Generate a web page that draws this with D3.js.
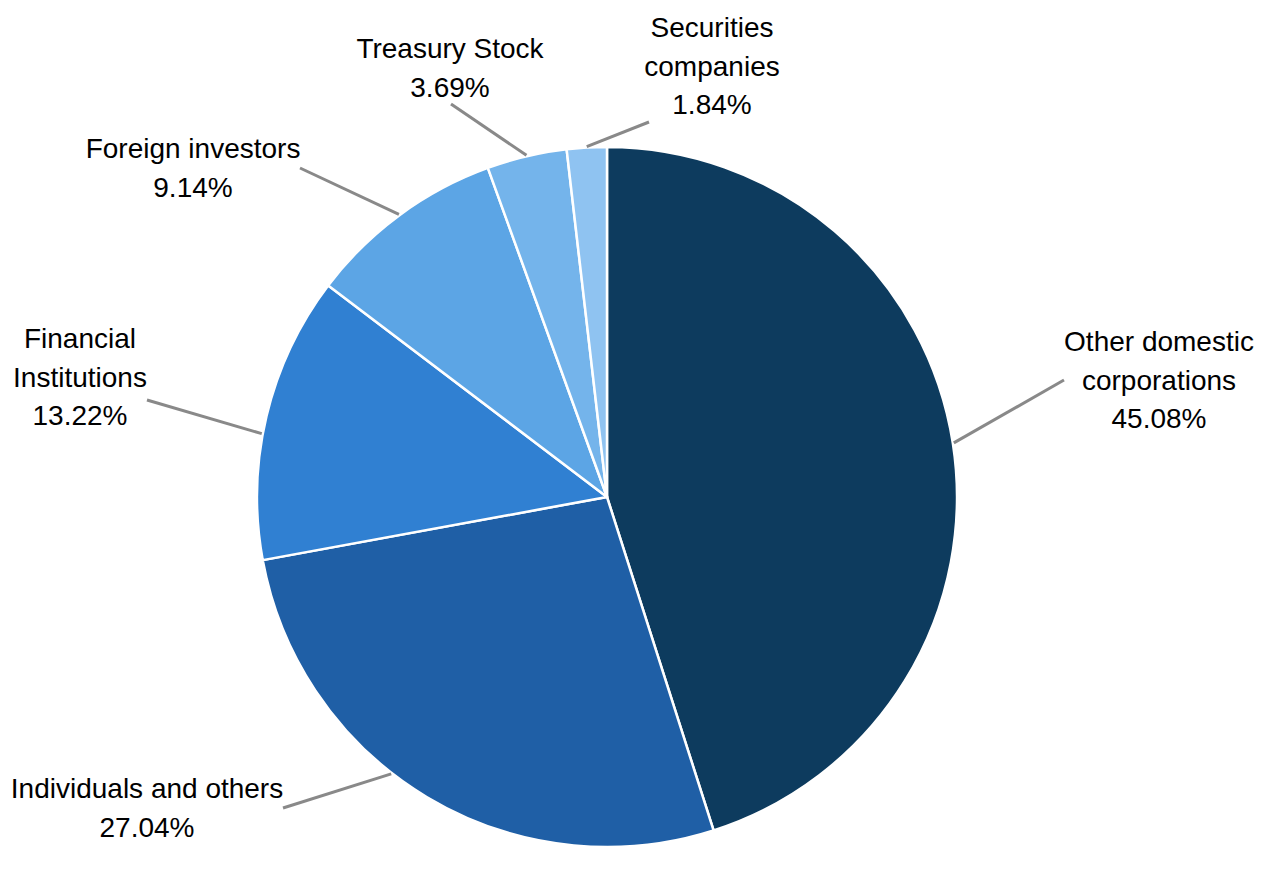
<!DOCTYPE html>
<html>
<head>
<meta charset="utf-8">
<script src="https://cdn.jsdelivr.net/npm/d3@7"></script>
<style>
  body { margin: 0; background: #fff; }
  text { font-family: "Liberation Sans", Arial, sans-serif; }
</style>
</head>
<body>
<div id="chart"></div>
<script>
// data
const categories = ["Other domestic corporations", "Individuals and others", "Financial Institutions",
  "Foreign investors", "Treasury Stock", "Securities companies"]
const labelLines = [["Other domestic", "corporations"], ["Individuals and others"], ["Financial", "Institutions"],
  ["Foreign investors"], ["Treasury Stock"], ["Securities", "companies"]]
const shares = [45.08, 27.04, 13.22, 9.14, 3.69, 1.84]

// colors, darkest first
const colors = ["#0d3b5e", "#1f5fa6", "#3080d2", "#5ca5e5", "#74b4eb", "#8fc3f1"]

// label placement relative to pie center: label anchor (first baseline), leader end, leader angle nudge (deg)
const labelLayout = [
  {lx: 552, ly: -146, ex: 457, ey: -117, nudge: 0},
  {lx: -460, ly: 301, ex: -324, ey: 311, nudge: 7},
  {lx: -527, ly: -149, ex: -460, ey: -97, nudge: -3},
  {lx: -414, ly: -339, ex: -307, ey: -329, nudge: 0},
  {lx: -157, ly: -439, ex: -156, ey: -393, nudge: 0},
  {lx: 105, ly: -460, ex: 42, ey: -375, nudge: 0}
]

const width = 1266, height = 869
const cx = 607, cy = 497, radius = 350
const lineH = 38.7

const svg = d3.select("#chart")
  .append("svg")
    .attr("width", width)
    .attr("height", height)

const g = svg.append("g")
    .attr("transform", `translate(${cx},${cy})`)

const data = categories.map((c, i) => ({name: c, value: shares[i], i: i}))

const pie = d3.pie()
  .sort(null)
  .value(d => d.value)

const arc = d3.arc()
  .innerRadius(0)
  .outerRadius(radius)

const arcs = pie(data)

// slices
g.selectAll("path.slice")
  .data(arcs)
  .join("path")
    .attr("class", "slice")
    .attr("d", arc)
    .attr("fill", d => colors[d.data.i])
    .attr("stroke", "#fff")
    .attr("stroke-width", 2.5)
    .attr("stroke-linejoin", "round")

// leader lines
const anchorAngle = d => (d.startAngle + d.endAngle) / 2 + labelLayout[d.data.i].nudge * Math.PI / 180

g.selectAll("line.leader")
  .data(arcs)
  .join("line")
    .attr("class", "leader")
    .attr("x1", d => Math.sin(anchorAngle(d)) * (radius + 1))
    .attr("y1", d => -Math.cos(anchorAngle(d)) * (radius + 1))
    .attr("x2", d => labelLayout[d.data.i].ex)
    .attr("y2", d => labelLayout[d.data.i].ey)
    .attr("stroke", "#898989")
    .attr("stroke-width", 3)

// labels
const lab = g.selectAll("text.lab")
  .data(arcs)
  .join("text")
    .attr("class", "lab")
    .attr("text-anchor", "middle")
    .attr("font-size", "28px")
    .attr("fill", "#000")
    .attr("transform", d => `translate(${labelLayout[d.data.i].lx},${labelLayout[d.data.i].ly})`)

lab.each(function(d) {
  const el = d3.select(this)
  const lines = labelLines[d.data.i].concat([d.data.value.toFixed(2) + "%"])
  lines.forEach((t, k) => {
    el.append("tspan")
      .attr("x", 0)
      .attr("y", k * lineH)
      .text(t)
  })
})
</script>
</body>
</html>
